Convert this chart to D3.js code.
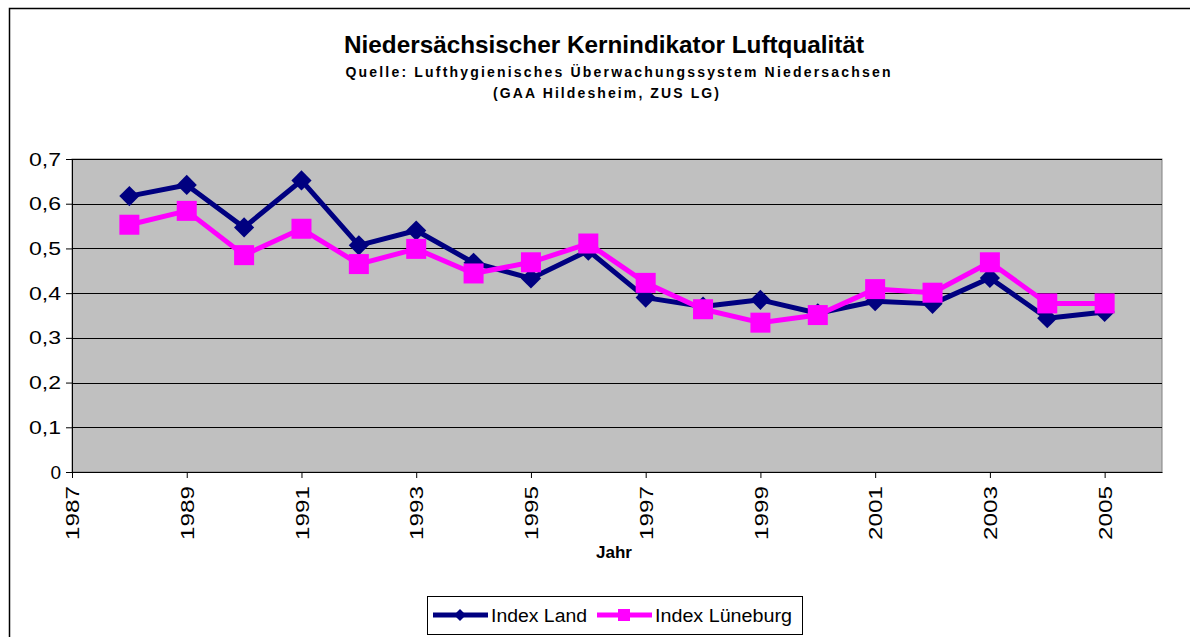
<!DOCTYPE html>
<html>
<head>
<meta charset="utf-8">
<script src="https://cdn.jsdelivr.net/npm/d3@7"></script>
<style>
  body { margin: 0; background: #fff; }
  text { font-family: "Liberation Sans", Arial, sans-serif; }
</style>
</head>
<body>
<script>
// Daten
const years = [1988, 1989, 1990, 1991, 1992, 1993, 1994, 1995, 1996, 1997,
  1998, 1999, 2000, 2001, 2002, 2003, 2004, 2005];
const indexLand = [0.617, 0.642, 0.547, 0.652, 0.507, 0.540, 0.468, 0.433, 0.495, 0.390,
  0.370, 0.385, 0.355, 0.382, 0.376, 0.434, 0.344, 0.358];
const indexLueneburg = [0.553, 0.584, 0.485, 0.544, 0.465, 0.499, 0.444, 0.469, 0.511, 0.423,
  0.364, 0.334, 0.351, 0.409, 0.401, 0.469, 0.377, 0.377];
const yTicks = [0, 0.1, 0.2, 0.3, 0.4, 0.5, 0.6, 0.7];
const xTicks = [1987, 1989, 1991, 1993, 1995, 1997, 1999, 2001, 2003, 2005];
const seriesNames = ['Index Land', 'Index Lüneburg'];

const width = 1190;
const height = 637;
const margin = { top: 159, right: 28, bottom: 165, left: 72 };

const svg = d3.select('body')
  .append('svg')
  .attr('width', width)
  .attr('height', height);

// Rahmen um das Diagramm
svg.append('rect')
  .attr('x', 9.5).attr('y', 8.5)
  .attr('width', width + 20).attr('height', height + 20)
  .attr('fill', '#fff')
  .attr('stroke', '#000')
  .attr('stroke-width', 1.5);

const x = d3.scaleLinear()
  .domain([1987, 2006])
  .range([margin.left, width - margin.right]);

const y = d3.scaleLinear()
  .domain([0, 0.7])
  .range([height - margin.bottom, margin.top]);

// Plotfläche
svg.append('rect')
  .attr('x', x(1987)).attr('y', y(0.7))
  .attr('width', x(2006) - x(1987))
  .attr('height', y(0) - y(0.7))
  .attr('fill', '#c0c0c0')
  .attr('stroke', '#808080');

// Gitterlinien
svg.append('g')
  .selectAll('line')
  .data(yTicks.filter(d => d > 0))
  .join('line')
  .attr('x1', x(1987)).attr('x2', x(2006))
  .attr('y1', d => Math.round(y(d)) + 0.5)
  .attr('y2', d => Math.round(y(d)) + 0.5)
  .attr('stroke', '#000');

const fmt = d => d === 0 ? '0' : d3.format('.1f')(d).replace('.', ',');

// y-Achse
svg.append('g')
  .attr('transform', `translate(${x(1987)},0)`)
  .call(d3.axisLeft(y).tickValues(yTicks).tickFormat(fmt).tickSize(6).tickPadding(5))
  .call(g => g.selectAll('text')
    .attr('font-size', 19).attr('fill', '#000')
    .attr('font-family', '"Liberation Sans", Arial, sans-serif')
    .each(function(d) {
      if (d > 0) d3.select(this).attr('textLength', 32).attr('lengthAdjust', 'spacingAndGlyphs');
    }))
  .call(g => g.selectAll('line, path').attr('stroke', '#000'));

// x-Achse
svg.append('g')
  .attr('transform', `translate(0,${y(0)})`)
  .call(d3.axisBottom(x).tickValues(xTicks).tickFormat(d3.format('d')).tickSize(6).tickSizeOuter(0))
  .call(g => g.selectAll('line, path').attr('stroke', '#000'))
  .call(g => g.selectAll('text')
    .attr('font-size', 19)
    .attr('fill', '#000')
    .attr('font-family', '"Liberation Sans", Arial, sans-serif')
    .attr('transform', 'rotate(-90)')
    .attr('text-anchor', 'end')
    .attr('textLength', 54)
    .attr('lengthAdjust', 'spacingAndGlyphs')
    .attr('x', -14)
    .attr('y', 0)
    .attr('dy', '0.35em'));

svg.append('text')
  .attr('x', 614).attr('y', 558)
  .attr('text-anchor', 'middle')
  .attr('font-size', 17)
  .attr('font-weight', 'bold')
  .text('Jahr');

// Titel
svg.append('text')
  .attr('x', 604).attr('y', 53)
  .attr('text-anchor', 'middle')
  .attr('font-size', 24)
  .attr('font-weight', 'bold')
  .attr('textLength', 520)
  .attr('lengthAdjust', 'spacingAndGlyphs')
  .text('Niedersächsischer Kernindikator Luftqualität');

svg.append('text')
  .attr('x', 618).attr('y', 77)
  .attr('text-anchor', 'middle')
  .attr('font-size', 14)
  .attr('font-weight', 'bold')
  .attr('textLength', 545)
  .attr('lengthAdjust', 'spacing')
  .text('Quelle: Lufthygienisches Überwachungssystem Niedersachsen');

svg.append('text')
  .attr('x', 606).attr('y', 98)
  .attr('text-anchor', 'middle')
  .attr('font-size', 14)
  .attr('font-weight', 'bold')
  .attr('textLength', 226)
  .attr('lengthAdjust', 'spacing')
  .text('(GAA Hildesheim, ZUS LG)');

// Linien
const line = d3.line()
  .x(d => x(d[0]))
  .y(d => y(d[1]));

const landData = years.map((yr, i) => [yr, indexLand[i]]);
const luenData = years.map((yr, i) => [yr, indexLueneburg[i]]);

const diamond = d3.symbol().type(d3.symbolDiamond2).size(260);

svg.append('path')
  .datum(landData)
  .attr('fill', 'none')
  .attr('stroke', '#000080')
  .attr('stroke-width', 5)
  .attr('stroke-linejoin', 'round')
  .attr('d', line);

svg.append('g')
  .selectAll('path')
  .data(landData)
  .join('path')
  .attr('transform', d => `translate(${x(d[0])},${y(d[1])})`)
  .attr('d', diamond)
  .attr('fill', '#000080');

svg.append('path')
  .datum(luenData)
  .attr('fill', 'none')
  .attr('stroke', '#ff00ff')
  .attr('stroke-width', 5)
  .attr('stroke-linejoin', 'round')
  .attr('d', line);

svg.append('g')
  .selectAll('rect')
  .data(luenData)
  .join('rect')
  .attr('x', d => x(d[0]) - 10)
  .attr('y', d => y(d[1]) - 10)
  .attr('width', 20)
  .attr('height', 20)
  .attr('fill', '#ff00ff');

// Legende
const legend = svg.append('g');
legend.append('rect')
  .attr('x', 427.5).attr('y', 596.5)
  .attr('width', 375).attr('height', 38)
  .attr('fill', '#fff')
  .attr('stroke', '#000');

const legendItems = [
  { name: seriesNames[0], color: '#000080', x0: 433, shape: 'diamond', len: 96 },
  { name: seriesNames[1], color: '#ff00ff', x0: 597, shape: 'square', len: 137 }
];

legendItems.forEach(it => {
  legend.append('line')
    .attr('x1', it.x0).attr('x2', it.x0 + 55)
    .attr('y1', 615).attr('y2', 615)
    .attr('stroke', it.color)
    .attr('stroke-width', 5);
  if (it.shape === 'diamond') {
    legend.append('path')
      .attr('transform', `translate(${it.x0 + 27},615)`)
      .attr('d', d3.symbol().type(d3.symbolDiamond2).size(90))
      .attr('fill', it.color);
  } else {
    legend.append('rect')
      .attr('x', it.x0 + 21).attr('y', 609)
      .attr('width', 12).attr('height', 12)
      .attr('fill', it.color);
  }
  legend.append('text')
    .attr('x', it.x0 + 58).attr('y', 622)
    .attr('font-size', 18)
    .attr('textLength', it.len)
    .attr('lengthAdjust', 'spacingAndGlyphs')
    .text(it.name);
});
</script>
</body>
</html>
